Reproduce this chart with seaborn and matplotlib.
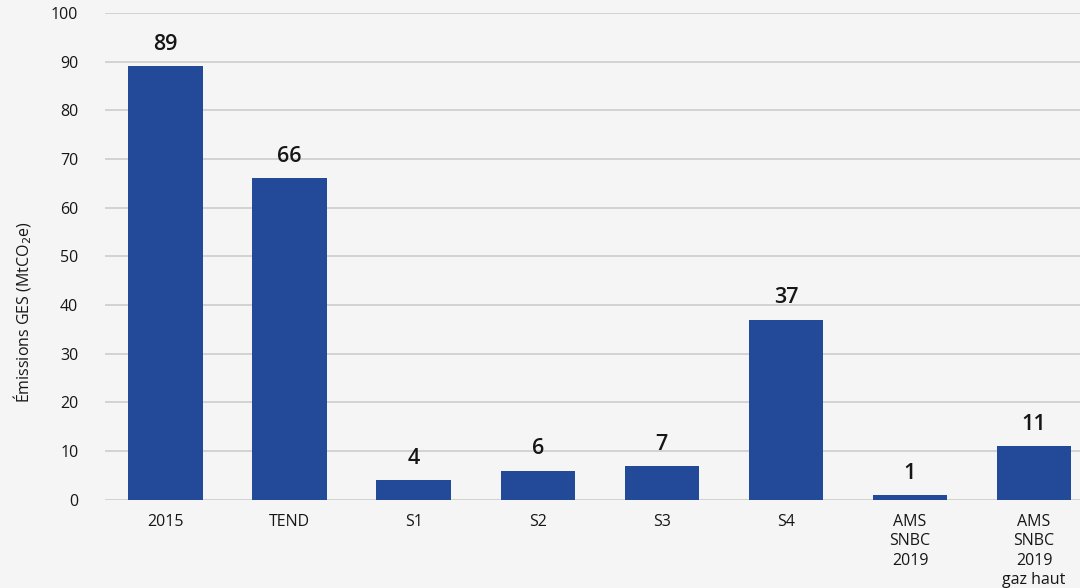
import pandas as pd
import matplotlib.pyplot as plt
import seaborn as sns

# Données
scenarios = ['2015', 'TEND', 'S1', 'S2', 'S3', 'S4', 'AMS\nSNBC\n2019', 'AMS\nSNBC\n2019\ngaz haut']
emissions = [89, 66, 4, 6, 7, 37, 1, 11]

df = pd.DataFrame({'Scénario': scenarios, 'Émissions': emissions})

sns.set_style('white')
plt.rcParams['font.family'] = ['Open Sans', 'DejaVu Sans']

fig = plt.figure(figsize=(10.8, 5.88), dpi=100, facecolor='#f5f5f5')
ax = fig.add_axes([0.097, 0.150, 0.903, 0.828])
ax.set_facecolor('#f5f5f5')

sns.barplot(x='Scénario', y='Émissions', data=df, color='#224a99', width=0.6,
            saturation=1, linewidth=0, ax=ax)

# Valeurs au-dessus des barres
for i, v in enumerate(emissions):
    ax.text(i, v + 2.3, str(v), ha='center', va='bottom', fontsize=15.5,
            fontweight='semibold', color='#161616')

ax.set_ylim(0, 100)
ax.set_xlim(-0.49, 7.37)
ax.set_yticks(range(0, 101, 10))
ax.grid(axis='y', color='#d0d0d0', linewidth=1.3)
ax.set_axisbelow(True)
for s in ax.spines.values():
    s.set_visible(False)

ax.tick_params(axis='both', length=0, labelsize=11.5, colors='#161616')
ax.tick_params(axis='y', pad=19)
ax.tick_params(axis='x', pad=10)
for lbl in ax.get_xticklabels():
    lbl.set_linespacing(1.3)

ax.set_xlabel('')
ax.set_ylabel('Émissions GES (MtCO$_2$e)', fontsize=11.5, color='#161616')
ax.yaxis.set_label_coords(-0.073, 0.385)

fig.savefig('out.png', dpi=100, facecolor=fig.get_facecolor())
